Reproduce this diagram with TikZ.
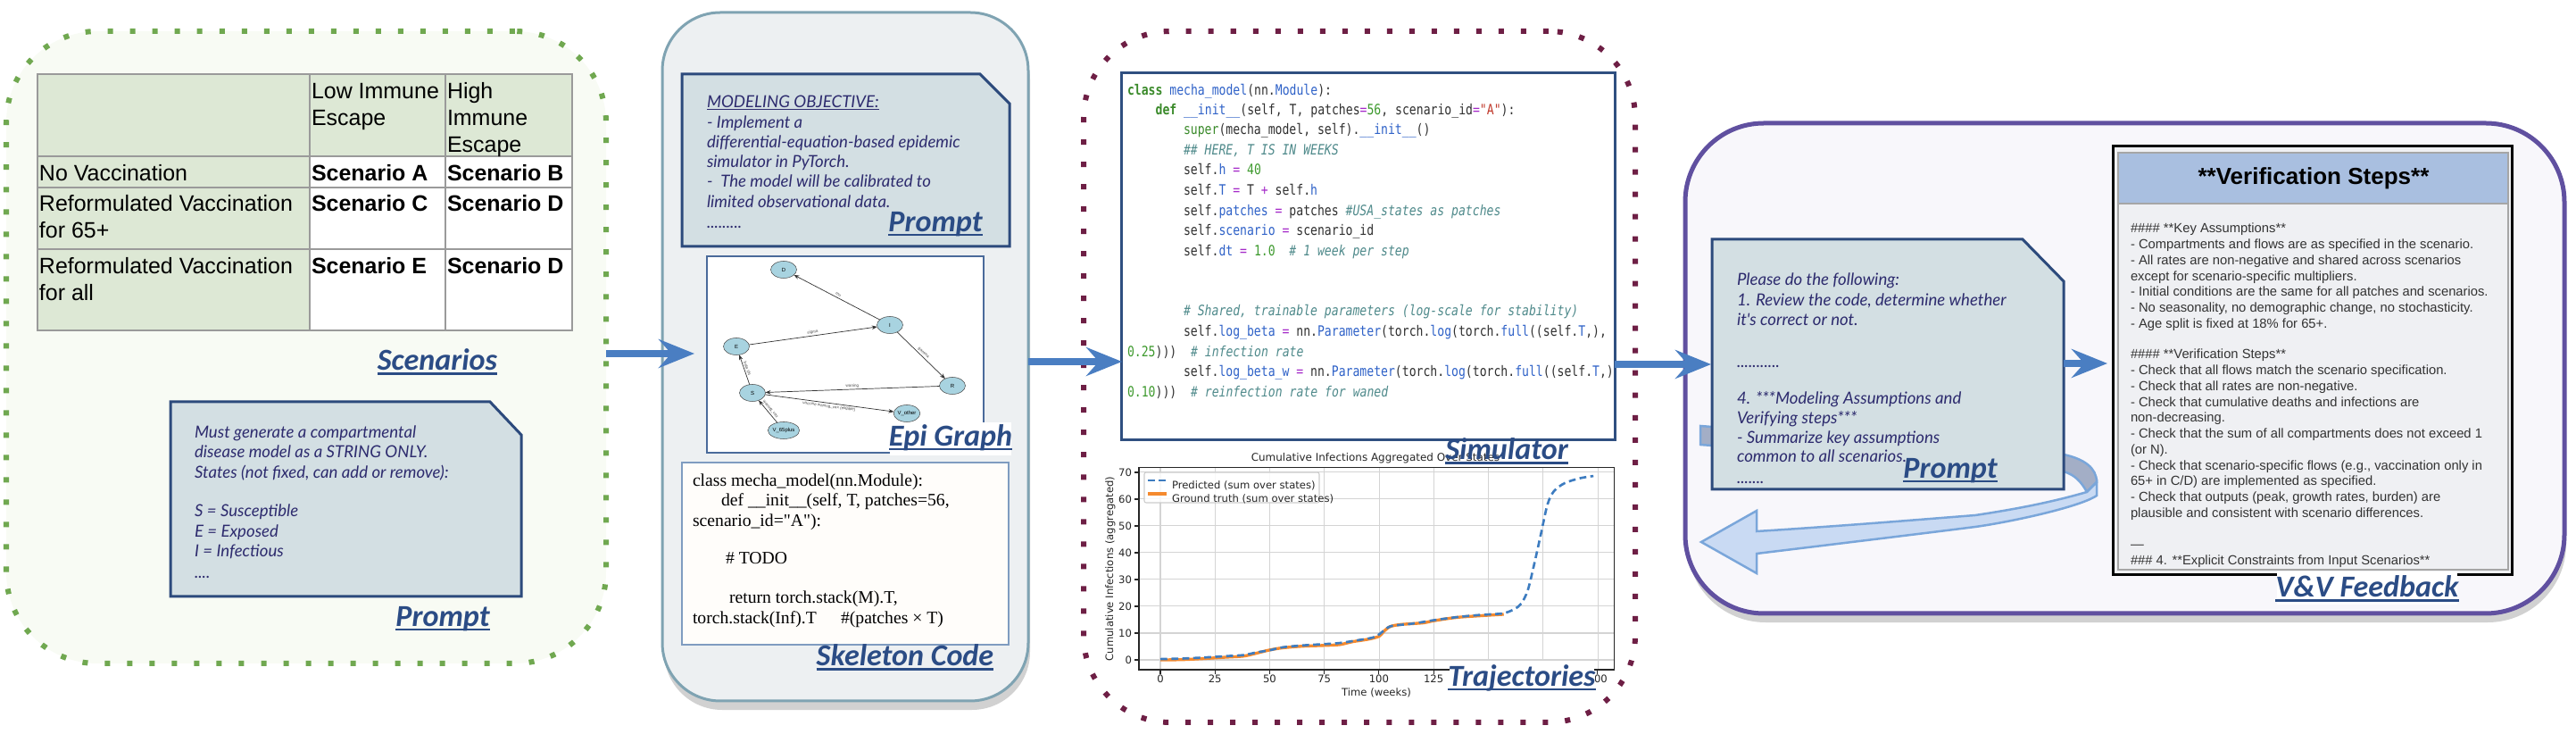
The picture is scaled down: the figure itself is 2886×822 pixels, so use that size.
\documentclass[tikz,border=0pt]{standalone}
\usepackage{fontspec}
\setmainfont{Liberation Sans}
\newfontfamily\lblfont{Carlito}
\newfontfamily\prfont{Lato}
\newfontfamily\cdfont[FakeStretch=0.82]{DejaVu Sans Mono}
\newfontfamily\skfont{Liberation Serif}
\newfontfamily\pltfont{DejaVu Sans}
\usetikzlibrary{arrows.meta,shadows,fit,shapes.geometric,calc}

\definecolor{pgreen}{HTML}{70A850}
\definecolor{pgreenfill}{HTML}{F8FBF4}
\definecolor{tabgreen}{HTML}{DDE8D5}
\definecolor{tabline}{HTML}{9A9A9A}
\definecolor{lblblue}{HTML}{2B4C85}
\definecolor{prfill}{HTML}{D3DFE3}
\definecolor{prborder}{HTML}{2C4A7C}
\definecolor{prink}{HTML}{2D2B6E}
\definecolor{ptwofill}{HTML}{EDF0F2}
\definecolor{ptwoborder}{HTML}{7FA3B2}
\definecolor{arrblue}{HTML}{4A7EC2}
\definecolor{maroondot}{HTML}{6E1F45}
\definecolor{codeborder}{HTML}{2F4F80}
\definecolor{kwgreen}{HTML}{3A8A2A}
\definecolor{fnblue}{HTML}{2F62C8}
\definecolor{oppurple}{HTML}{A52BC9}
\definecolor{numgreen}{HTML}{3E9A2E}
\definecolor{strred}{HTML}{C0392B}
\definecolor{cmteal}{HTML}{4F8A8B}
\definecolor{codeink}{HTML}{303030}
\definecolor{plotblue}{HTML}{3D7CC0}
\definecolor{plotorange}{HTML}{F58A2E}
\definecolor{gridgray}{HTML}{D4D4D4}
\definecolor{pfourfill}{HTML}{F8F7FB}
\definecolor{pfourborder}{HTML}{6050A0}
\definecolor{ribfront}{HTML}{C9DAF3}
\definecolor{ribback}{HTML}{A3AEC6}
\definecolor{ribline}{HTML}{7AA6DA}
\definecolor{verhead}{HTML}{A9BFE0}
\definecolor{verbody}{HTML}{EFF0F3}
\definecolor{verink}{HTML}{333333}
\definecolor{nodeblue}{HTML}{A8D3E0}
\definecolor{skelfill}{HTML}{FFFDFA}
\definecolor{skelborder}{HTML}{7F9CC0}
\definecolor{epiborder}{HTML}{4A6A9A}

\newcommand\ckw[1]{\textcolor{kwgreen}{\bfseries #1}}
\newcommand\cfn[1]{\textcolor{fnblue}{#1}}
\newcommand\cop[1]{\textcolor{oppurple}{#1}}
\newcommand\cnum[1]{\textcolor{numgreen}{#1}}
\newcommand\cstr[1]{\textcolor{strred}{#1}}
\newcommand\ccm[1]{\textcolor{cmteal}{\itshape #1}}
\newcommand\myul[1]{\setbox0\hbox{#1}\rlap{\rule[-0.15em]{\wd0}{0.07em}}\box0}

\begin{document}
\begin{tikzpicture}[x=0.01cm,y=-0.01cm,
  every node/.style={inner sep=0pt, outer sep=0pt},
  lbl/.style={font=\lblfont\bfseries\itshape\fontsize{9.7pt}{11pt}\selectfont, text=lblblue},
  tabtxt/.style={anchor=mid west, font=\fontsize{7.1pt}{8.5pt}\selectfont},
  tabbold/.style={anchor=mid west, font=\bfseries\fontsize{7.1pt}{8.5pt}\selectfont},
  prtxt/.style={anchor=mid west, font=\prfont\itshape\fontsize{5.3pt}{6.3pt}\selectfont, text=prink},
  cdtxt/.style={anchor=mid west, font=\cdfont\fontsize{4.55pt}{6.4pt}\selectfont, text=codeink},
  sktxt/.style={anchor=mid west, font=\skfont\fontsize{5.6pt}{6.3pt}\selectfont, text=black},
  vtxt/.style={anchor=mid west, font=\fontsize{4.2pt}{5pt}\selectfont, text=verink},
  ptxt/.style={font=\pltfont\fontsize{3.3pt}{3.9pt}\selectfont, text=black!85},
  bigarrow/.style={draw=arrblue, line width=0.08cm, -{Stealth[length=0.4cm, width=0.32cm, inset=0.14cm]}},
  prbox/.style={fill=prfill, draw=prborder, line width=0.03cm},
  epinode/.style={ellipse, draw=black!70, line width=0.15pt, fill=nodeblue, minimum width=0.29cm, minimum height=0.19cm, font=\fontsize{1.7pt}{2pt}\selectfont},
  epiedge/.style={draw=black!80, line width=0.2pt, -{Stealth[length=0.06cm, width=0.045cm]}},
  elab/.style={sloped, font=\fontsize{1.3pt}{1.5pt}\selectfont, text=black!70},
  dotframe/.style={line width=0.06cm, dash pattern=on 0.06cm off 0.19cm}
]
\useasboundingbox (0,0) rectangle (2886,822);

% ================= Panel 1 =================
\node[fit={(7,35) (679,743)}, rounded corners=1.02cm, fill=pgreenfill, draw=pgreen, dotframe] (p1) {};
\fill[tabgreen] (42,83) rectangle (641,175);
\fill[tabgreen] (42,175) rectangle (347,370);
\fill[white] (347,175) rectangle (641,370);
\node[fit={(42,83) (641,370)}, draw=tabline, line width=0.025cm] (tab) {};
\draw[tabline, line width=0.025cm] (347,83) -- (347,370) (499,83) -- (499,370)
  (42,175) -- (641,175) (42,210) -- (641,210) (42,279) -- (641,279);
\node[tabtxt] (t1) at (349,101) {Low Immune};
\node[tabtxt] (t2) at (349,131) {Escape};
\node[tabtxt] (t3) at (501,101) {High};
\node[tabtxt] (t4) at (501,131) {Immune};
\node[tabtxt] (t5) at (501,161) {Escape};
\node[tabtxt] (t6) at (44,193) {No Vaccination};
\node[tabtxt] (t7) at (44,227) {Reformulated Vaccination};
\node[tabtxt] (t8) at (44,257) {for 65+};
\node[tabtxt] (t9) at (44,297) {Reformulated Vaccination};
\node[tabtxt] (t10) at (44,327) {for all};
\node[tabbold] (sa) at (349,193) {Scenario A};
\node[tabbold] (sb) at (501,193) {Scenario B};
\node[tabbold] (sc) at (349,227) {Scenario C};
\node[tabbold] (sd1) at (501,227) {Scenario D};
\node[tabbold] (se) at (349,297) {Scenario E};
\node[tabbold] (sd2) at (501,297) {Scenario D};
\node[lbl] (lscen) at (490,405) {\myul{Scenarios}};

\path[prbox] (191,450) -- (549,450) -- (584,487) -- (584,668) -- (191,668) -- cycle;
\node[fit={(191,450) (584,668)}] (prm1) {};
\node[prtxt] (q1) at (218,481) {Must generate a compartmental};
\node[prtxt] (q2) at (218,503) {disease model as a STRING ONLY.};
\node[prtxt] (q3) at (218,526) {States (not fixed, can add or remove):};
\node[prtxt] (q4) at (218,569) {S = Susceptible};
\node[prtxt] (q5) at (218,592) {E = Exposed};
\node[prtxt] (q6) at (218,614) {I = Infectious};
\node[prtxt] (q7) at (218,638) {....};
\node[lbl] (lpr1) at (496,693) {\myul{Prompt}};

% ================= Panel 2 =================
\node[fit={(742,14) (1152,785)}, rounded corners=0.65cm, fill=ptwofill, draw=ptwoborder, line width=0.03cm,
  drop shadow={shadow xshift=0.02cm, shadow yshift=-0.1cm, opacity=0.3, fill=black!60}] (p2) {};
\path[prbox] (764,83) -- (1098,83) -- (1131,116) -- (1131,276) -- (764,276) -- cycle;
\node[fit={(764,83) (1131,276)}] (prm2) {};
\node[prtxt] (m1) at (792,111) {\myul{MODELING OBJECTIVE:}};
\node[prtxt] (m2) at (792,134) {- Implement a};
\node[prtxt] (m3) at (792,156) {differential-equation-based epidemic};
\node[prtxt] (m4) at (792,178) {simulator in PyTorch.};
\node[prtxt] (m5) at (792,200) {-\ \ The model will be calibrated to};
\node[prtxt] (m6) at (792,223) {limited observational data.};
\node[prtxt] (m7) at (792,246) {.........};
\node[lbl] (lpr2) at (1048,251) {\myul{Prompt}};

% Epi graph
\node[fit={(792,287) (1102,507)}, draw=epiborder, line width=0.025cm, fill=white] (epibox) {};
\node[epinode] (nD) at (878,302) {D};
\node[epinode] (nI) at (997,364) {I};
\node[epinode] (nE) at (825,388) {E};
\node[epinode] (nS) at (843,440) {S};
\node[epinode] (nR) at (1067,432) {R};
\node[epinode] (nVo) at (1016,463) {V\_other};
\node[epinode] (nV6) at (878,482) {V\_65plus};
\draw[epiedge] (nI) -- node[elab, above=0.5pt] (e1) {mu} (nD);
\draw[epiedge] (nE) -- node[elab, above=0.5pt] (e2) {sigma} (nI);
\draw[epiedge] (nI) -- node[elab, above=0.5pt] (e3) {gamma} (nR);
\draw[epiedge] (nR) -- node[elab, above=0.5pt] (e4) {waning} (nS);
\draw[epiedge] (nS) -- node[elab, above=0.5pt] (e5) {beta I/N} (nE);
\draw[epiedge] (nS) -- node[elab, below=0.5pt] (e6) {vaccine waning\_vax (eligible)} (nVo);
\draw[epiedge] (nV6) -- node[elab, above=0.5pt] (e7) {waning\_vax} (nS);
\node[fit={(997,473) (1133,510)}, fill=white] (epibg) {};
\node[lbl] (lepi) at (1065,490) {\myul{Epi Graph}};

% Skeleton code
\node[fit={(764,518) (1130,722)}, draw=skelborder, line width=0.02cm, fill=skelfill] (skel) {};
\node[sktxt] (k1) at (776,535) {class mecha\_model(nn.Module):};
\node[sktxt] (k2) at (808,557) {def \_\_init\_\_(self, T, patches=56,};
\node[sktxt] (k3) at (776,580) {scenario\_id="A"):};
\node[sktxt] (k4) at (813,622) {\# TODO};
\node[sktxt] (k5) at (817,666) {return torch.stack(M).T,};
\node[sktxt] (k6) at (776,689) {torch.stack(Inf).T};
\node[sktxt] (k7) at (942,689) {\#(patches × T)};
\node[lbl] (lskel) at (1014,736) {\myul{Skeleton Code}};

% ================= Panel 3 =================
\node[fit={(1214,35) (1832,809)}, rounded corners=0.97cm, draw=maroondot, dotframe] (p3) {};
\node[fit={(1256,82) (1809,493)}, draw=codeborder, line width=0.03cm, fill=white] (codebox) {};
\begin{scope}
\clip (1258,84) rectangle (1807,491);
\node[cdtxt] (c1) at (1263,97) {\ckw{class} \cfn{mecha\_model}(nn.\cfn{Module}):};
\node[cdtxt] (c2) at (1294.6,119) {\ckw{def} \cfn{\_\_init\_\_}(self, T, patches\cop{=}\cnum{56}, scenario\_id\cop{=}\cstr{"A"}):};
\node[cdtxt] (c3) at (1326,141) {\textcolor{kwgreen}{super}(mecha\_model, self).\cfn{\_\_init\_\_}()};
\node[cdtxt] (c4) at (1326,164) {\ccm{\#\# HERE, T IS IN WEEKS}};
\node[cdtxt] (c5) at (1326,186) {self.\cfn{h} \cop{=} \cnum{40}};
\node[cdtxt] (c6) at (1326,209) {self.\cfn{T} \cop{=} T \cop{+} self.\cfn{h}};
\node[cdtxt] (c7) at (1326,232) {self.\cfn{patches} \cop{=} patches \ccm{\#USA\_states as patches}};
\node[cdtxt] (c8) at (1326,254) {self.\cfn{scenario} \cop{=} scenario\_id};
\node[cdtxt] (c9) at (1326,277) {self.\cfn{dt} \cop{=} \cnum{1.0}\ \ \ccm{\# 1 week per step}};
\node[cdtxt] (c10) at (1326,344) {\ccm{\# Shared, trainable parameters (log-scale for stability)}};
\node[cdtxt] (c11) at (1326,367) {self.\cfn{log\_beta} \cop{=} nn.\cfn{Parameter}(torch.\cfn{log}(torch.\cfn{full}((self.\cfn{T},),};
\node[cdtxt] (c12) at (1263,390) {\cnum{0.25}))) \ \ccm{\# infection rate}};
\node[cdtxt] (c13) at (1326,412) {self.\cfn{log\_beta\_w} \cop{=} nn.\cfn{Parameter}(torch.\cfn{log}(torch.\cfn{full}((self.\cfn{T},)};
\node[cdtxt] (c14) at (1263,435) {\cnum{0.10}))) \ \ccm{\# reinfection rate for waned}};
\end{scope}

% Plot
\node[font=\pltfont\fontsize{3.4pt}{4pt}\selectfont, text=black!85] (ptitle) at (1541,513) {Cumulative Infections Aggregated Over States};
\begin{scope}[shift={(1300,739)}, x=0.02449cm, y=0.03cm]
  \foreach \w in {0,25,...,200} \draw[gridgray, line width=0.3pt] (\w,-3.67) -- (\w,71.67);
  \foreach \v in {0,10,...,70} \draw[gridgray, line width=0.3pt] (-9.8,\v) -- (207.4,\v);
  \draw[plotorange, line width=0.95pt] plot[smooth, tension=0.5] coordinates {(0,0) (10,0.1) (20,0.5) (30,1.0) (38,1.4) (44,2.5) (50,3.7) (56,4.5) (65,5.1) (75,5.4) (82,5.7) (88,6.8) (95,7.7) (100,8.8) (102,10.5) (105,12.4) (110,13.2) (120,13.8) (125,14.6) (135,15.8) (145,16.4) (157,17.0)};
  \draw[plotblue, line width=0.75pt, dash pattern=on 2.2pt off 1.3pt] plot[smooth, tension=0.5] coordinates {(0,0.3) (10,0.5) (20,0.9) (30,1.4) (38,1.8) (44,2.8) (50,3.6) (56,4.7) (65,5.4) (75,5.9) (82,6.3) (90,7.3) (97,8.3) (100,9.5) (103,11.5) (106,12.7) (115,13.5) (125,14.8) (135,15.9) (145,16.7) (155,17.2) (158,17.6) (162,19) (165,21) (168,26) (171,36) (174,47) (177,58) (180,63) (185,66) (192,67.8) (198,68.6)};
  \node[fit={(-9.8,-3.67) (207.4,71.67)}, draw=black!85, line width=0.35pt] (axes) {};
\end{scope}
\foreach \w in {0,25,...,200} {
  \draw[black!85, line width=0.3pt] ({1300+2.449*\w},750) -- ++(0,5);
}
\foreach \w in {0,25,...,125} {
  \node[ptxt, anchor=north] at ({1300+2.449*\w},756) {\w};
}
\begin{scope}
\clip (1787,750) rectangle (1815,775);
\node[ptxt, anchor=north] (tick200) at ({1300+2.449*200},756) {200};
\end{scope}
\foreach \v in {0,10,...,70} {
  \draw[black!85, line width=0.3pt] (1276,{739-3*\v}) -- ++(-5,0);
  \node[ptxt, anchor=east] at (1268,{739-3*\v}) {\v};
}
\node[ptxt] (xlab) at (1542,776) {Time (weeks)};
\node[ptxt, rotate=90] (ylab) at (1244,637) {Cumulative Infections (aggregated)};
\node[fit={(1282,529) (1478,563)}, draw=black!20, fill=white, fill opacity=0.85, rounded corners=0.02cm, line width=0.3pt] (leg) {};
\draw[plotblue, line width=0.75pt, dash pattern=on 2.2pt off 1.3pt] (1286,538) -- (1307,538);
\node[ptxt, anchor=mid west] (lg1) at (1313,538) {Predicted (sum over states)};
\draw[plotorange, line width=0.95pt] (1286,553) -- (1307,553);
\node[ptxt, anchor=mid west] (lg2) at (1313,553) {Ground truth (sum over states)};
\node[lbl] (lsim) at (1688,505) {\myul{Simulator}};
\node[fit={(1624,740) (1786,777)}, fill=white] (trbg) {};
\node[lbl] (ltraj) at (1705,759) {\myul{Trajectories}};

% ================= Panel 4 =================
\node[fit={(1888,138) (2873,687)}, rounded corners=0.88cm, fill=pfourfill, draw=pfourborder, line width=0.05cm,
  drop shadow={shadow xshift=0.02cm, shadow yshift=-0.1cm, opacity=0.3, fill=black!60}] (p4) {};
% ribbon back
\path[fill=ribback, draw=ribline, line width=0.025cm] (1905,477) -- (2312,509) .. controls (2335,514) and (2349,524) .. (2349,540) -- (2338,551) .. controls (2332,540) and (2325,532) .. (2312,528) -- (1905,498) -- cycle;
\path[prbox] (1918,268) -- (2266,268) -- (2312,315) -- (2312,548) -- (1918,548) -- cycle;
\node[fit={(1918,268) (2312,548)}] (prm4) {};
\node[prtxt] (r1) at (1946,310) {Please do the following:};
\node[prtxt] (r2) at (1946,333) {1. Review the code, determine whether};
\node[prtxt] (r3) at (1946,355) {it's correct or not.};
\node[prtxt] (r4) at (1946,402) {...........};
\node[prtxt] (r5) at (1946,443) {4. ***Modeling Assumptions and};
\node[prtxt] (r6) at (1946,465) {Verifying steps***};
\node[prtxt] (r7) at (1946,487) {- Summarize key assumptions};
\node[prtxt] (r8) at (1946,508) {common to all scenarios.};
\node[prtxt] (r9) at (1946,532) {.......};
\node[lbl] (lpr4) at (2185,527) {\myul{Prompt}};
% ribbon front with head
\path[fill=ribfront, draw=ribline, line width=0.025cm] (2349,540) -- (2349,555) .. controls (2330,568) and (2250,585) .. (2213,590) .. controls (2150,598) and (2050,610) .. (1968,620) -- (1968,642) -- (1906,607) -- (1968,572) -- (1968,595) .. controls (2050,590) and (2150,582) .. (2213,577) .. controls (2260,570) and (2300,562) .. (2338,551) -- cycle;

% Verification box
\node[fit={(2367,164) (2814,644)}, draw=black, line width=0.03cm, fill=verbody] (verif) {};
\fill[verhead] (2373,171) rectangle (2810,228);
\draw[black!35, line width=0.4pt] (2373,171) rectangle (2810,638);
\draw[black!35, line width=0.4pt] (2373,228) -- (2810,228);
\node[font=\bfseries\fontsize{7.4pt}{8.5pt}\selectfont] (vh) at (2592,200) {**Verification Steps**};
\node[vtxt] (v1) at (2387,251) {\#\#\#\# **Key Assumptions**};
\node[vtxt] (v2) at (2387,269) {- Compartments and flows are as specified in the scenario.};
\node[vtxt] (v3) at (2387,287) {- All rates are non-negative and shared across scenarios};
\node[vtxt] (v4) at (2387,305) {except for scenario-specific multipliers.};
\node[vtxt] (v5) at (2387,322) {- Initial conditions are the same for all patches and scenarios.};
\node[vtxt] (v6) at (2387,340) {- No seasonality, no demographic change, no stochasticity.};
\node[vtxt] (v7) at (2387,358) {- Age split is fixed at 18\% for 65+.};
\node[vtxt] (v8) at (2387,392) {\#\#\#\# **Verification Steps**};
\node[vtxt] (v9) at (2387,410) {- Check that all flows match the scenario specification.};
\node[vtxt] (v10) at (2387,428) {- Check that all rates are non-negative.};
\node[vtxt] (v11) at (2387,446) {- Check that cumulative deaths and infections are};
\node[vtxt] (v12) at (2387,463) {non-decreasing.};
\node[vtxt] (v13) at (2387,481) {- Check that the sum of all compartments does not exceed 1};
\node[vtxt] (v14) at (2387,499) {(or N).};
\node[vtxt] (v15) at (2387,517) {- Check that scenario-specific flows (e.g., vaccination only in};
\node[vtxt] (v16) at (2387,534) {65+ in C/D) are implemented as specified.};
\node[vtxt] (v17) at (2387,552) {- Check that outputs (peak, growth rates, burden) are};
\node[vtxt] (v18) at (2387,570) {plausible and consistent with scenario differences.};
\node[vtxt] (v19) at (2387,605) {---};
\node[vtxt] (v20) at (2387,623) {\#\#\# 4. **Explicit Constraints from Input Scenarios**};
\node[fit={(2551,640) (2753,677)}, fill=white] (vvbg) {};
\node[lbl] (lvv) at (2652,659) {\myul{V\&V Feedback}};

% ================= Arrows =================
\coordinate (a1e) at (778,396);
\draw[bigarrow] (p1.east |- a1e) -- (a1e);
\coordinate (a2e) at (1257,405);
\draw[bigarrow] (p2.east |- a2e) -- (a2e);
\coordinate (a3e) at (1917,408);
\draw[bigarrow] (codebox.east |- a3e) -- (a3e);
\coordinate (a4e) at (2361,407);
\draw[bigarrow] (prm4.east |- a4e) -- (a4e);
\end{tikzpicture}
\end{document}
